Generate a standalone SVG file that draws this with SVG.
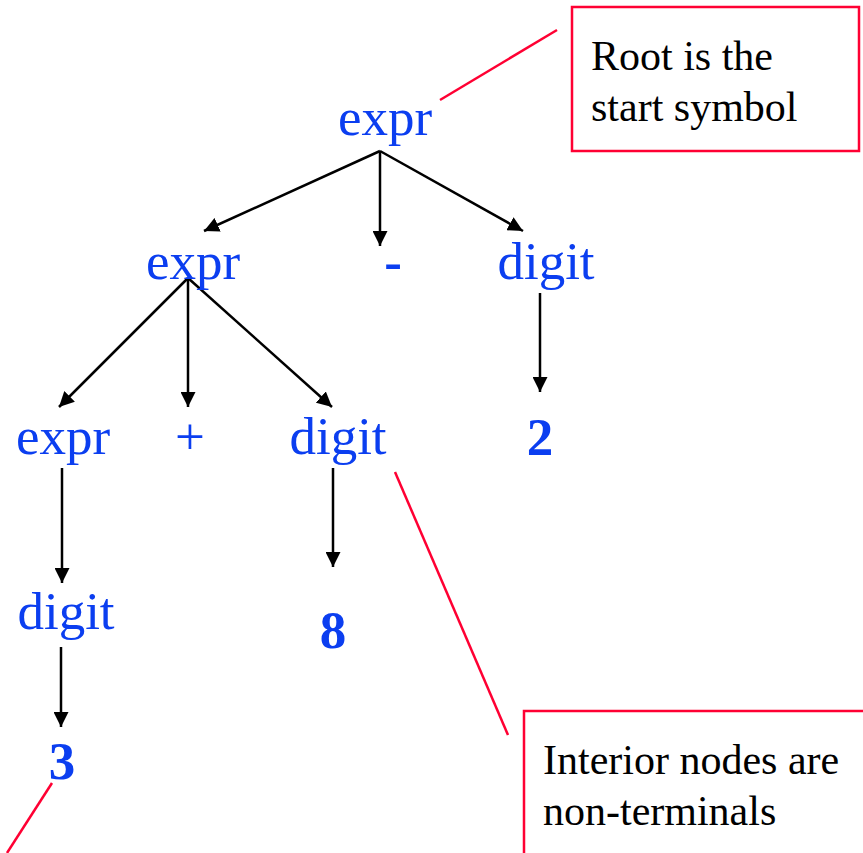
<svg xmlns="http://www.w3.org/2000/svg" width="863" height="853" viewBox="0 0 863 853">
  <style>
    .sym { font-family: "Liberation Serif", "Times New Roman", serif; font-size: 53px; fill: #0b3ef0; text-anchor: middle; }
    .term { font-weight: bold; }
    .note { font-family: "Liberation Serif", "Times New Roman", serif; font-size: 42px; fill: #000; }
    .edge { stroke: #000; stroke-width: 2.5; fill: none; marker-end: url(#arrow); }
    .callout { stroke: #ff0033; stroke-width: 2.5; fill: none; }
  </style>
  <defs>
    <marker id="arrow" viewBox="0 0 10 10" refX="10" refY="5" markerUnits="userSpaceOnUse" markerWidth="15" markerHeight="15" orient="auto">
      <path d="M0,0 L10,5 L0,10 z" fill="#000"/>
    </marker>
  </defs>
  <rect width="863" height="853" fill="#fff"/>

  <!-- parse tree edges -->
  <g id="connectors">
    <line class="edge" x1="380" y1="151" x2="204" y2="231"/>
    <line class="edge" x1="380" y1="151" x2="380" y2="246"/>
    <line class="edge" x1="380" y1="151" x2="523" y2="231"/>
    <line class="edge" x1="188" y1="278" x2="59" y2="407"/>
    <line class="edge" x1="188" y1="278" x2="188" y2="407"/>
    <line class="edge" x1="188" y1="278" x2="332" y2="407"/>
    <line class="edge" x1="540" y1="293" x2="540" y2="392"/>
    <line class="edge" x1="62" y1="468" x2="62" y2="583"/>
    <line class="edge" x1="333" y1="468" x2="333" y2="567"/>
    <line class="edge" x1="61" y1="647" x2="61" y2="727"/>
    <!-- callout pointers -->
    <line class="callout" x1="440" y1="100" x2="557" y2="30"/>
    <line class="callout" x1="395" y1="472" x2="508" y2="735"/>
    <line class="callout" x1="52" y1="783" x2="7" y2="853"/>
  </g>

  <!-- tree nodes -->
  <g id="n-root"><text class="sym" x="385" y="135">expr</text></g>
  <g id="n-expr1"><text class="sym" x="193" y="279">expr</text></g>
  <g id="n-minus"><text class="sym term" x="393" y="279">-</text></g>
  <g id="n-digit1"><text class="sym" x="546" y="279">digit</text></g>
  <g id="n-expr2"><text class="sym" x="63" y="454">expr</text></g>
  <g id="n-plus"><text class="sym" x="190" y="454">+</text></g>
  <g id="n-digit2"><text class="sym" x="338" y="454">digit</text></g>
  <g id="n-two"><text class="sym term" x="540" y="455">2</text></g>
  <g id="n-digit3"><text class="sym" x="66" y="629">digit</text></g>
  <g id="n-eight"><text class="sym term" x="333" y="648">8</text></g>
  <g id="n-three"><text class="sym term" x="62" y="779">3</text></g>

  <!-- annotation boxes -->
  <g id="note-root">
    <rect class="callout" x="572" y="7" width="287" height="144"/>
    <text class="note" x="591" y="70">Root is the</text>
    <text class="note" x="591" y="121">start symbol</text>
  </g>
  <g id="note-interior">
    <rect class="callout" x="524" y="711" width="360" height="160"/>
    <text class="note" x="543" y="774">Interior nodes are</text>
    <text class="note" x="543" y="825">non-terminals</text>
  </g>
</svg>
